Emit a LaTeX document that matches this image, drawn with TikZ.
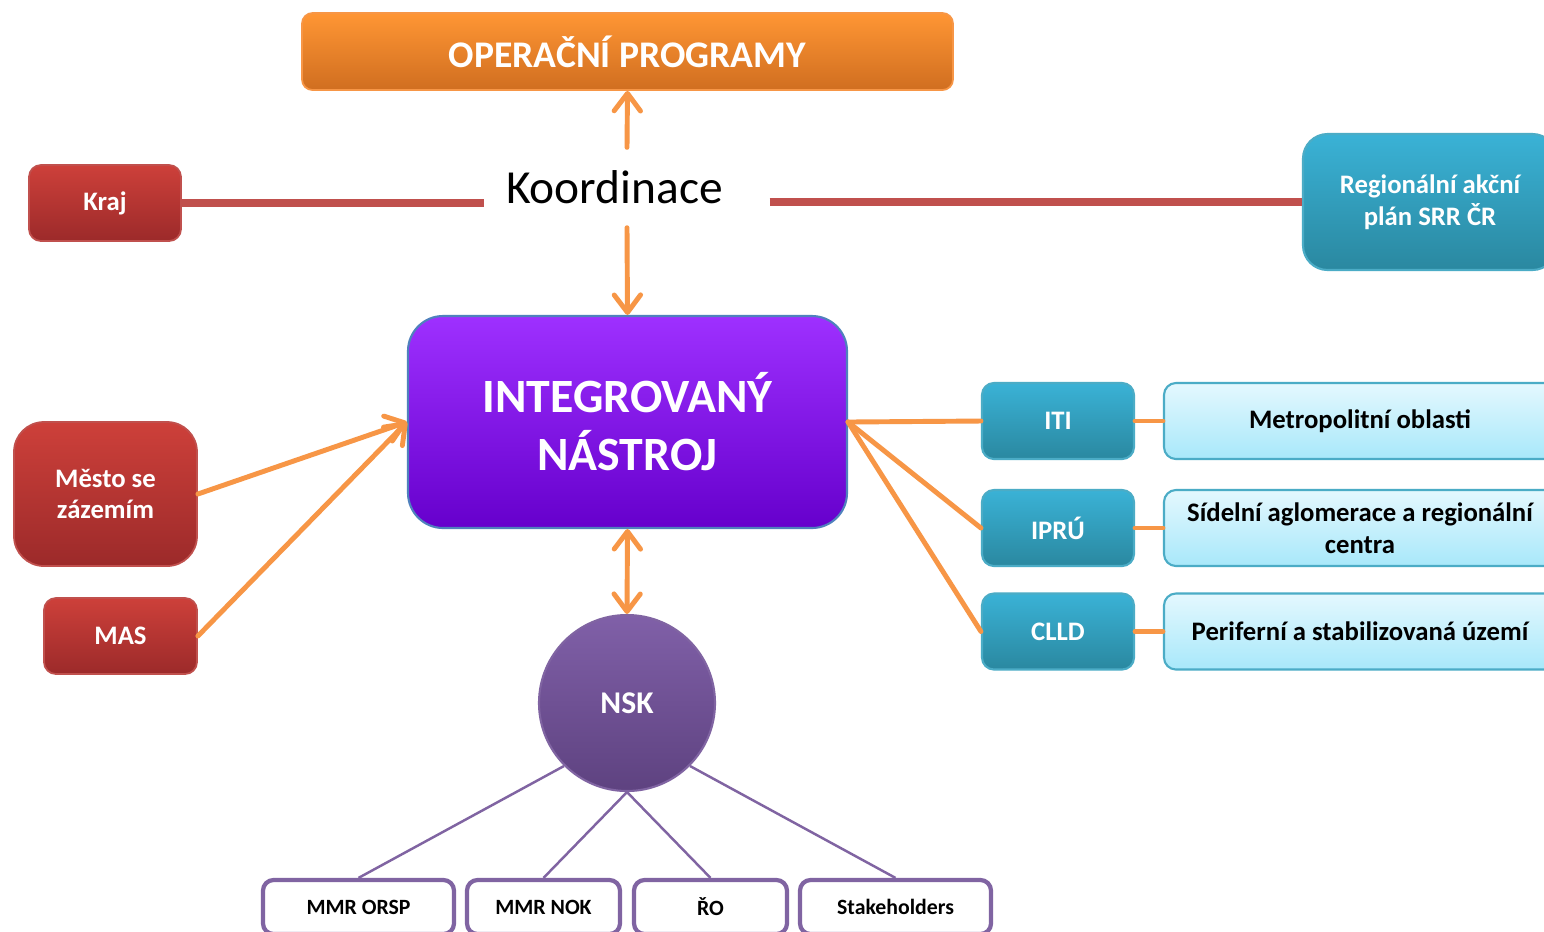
\documentclass[tikz,border=0pt]{standalone}
\usepackage{fontspec}
\setmainfont{Carlito}
\usetikzlibrary{arrows.meta}
\definecolor{arr}{HTML}{F79646}
\definecolor{redline}{HTML}{C0504D}
\definecolor{lila}{HTML}{8064A2}
\definecolor{teal}{HTML}{4BACC6}
\begin{document}
\begin{tikzpicture}[>={Straight Barb[length=5pt,width=7.5pt,round]},
  box/.style={rectangle,inner sep=0pt,align=center,text=white,font=\bfseries\fontsize{7.6}{9}\selectfont},
  redbox/.style={box,rounded corners=3.4pt,draw=redline,line width=0.5pt,top color={rgb,255:red,205;green,64;blue,58},bottom color={rgb,255:red,156;green,42;blue,42}},
  tealbox/.style={box,rounded corners=3.4pt,draw=teal,line width=0.6pt,top color={rgb,255:red,58;green,178;blue,214},bottom color={rgb,255:red,42;green,136;blue,160}},
  lightbox/.style={box,text=black,rounded corners=3.4pt,draw=teal,line width=0.6pt,top color={rgb,255:red,228;green,248;blue,254},bottom color={rgb,255:red,168;green,232;blue,250},minimum width=3.92cm,minimum height=0.76cm},
  nskbox/.style={box,text=black,font=\bfseries\fontsize{6.2}{7.5}\selectfont,fill=white,draw=lila,line width=1.2pt,rounded corners=3pt,minimum height=0.54cm},
  link/.style={arr,line width=1.4pt,line cap=round},
  nsklink/.style={lila,line width=0.7pt}]
\clip (0,0) rectangle (15.44,-9.31);
\fill[white] (0,0) rectangle (15.44,-9.31);
% horni cast
\node[box,font=\bfseries\fontsize{10.7}{12}\selectfont,minimum width=6.51cm,minimum height=0.77cm,draw=arr,line width=0.5pt,
  rounded corners=3pt,top color={rgb,255:red,255;green,150;blue,52},bottom color={rgb,255:red,208;green,110;blue,32}]
  (op) at (6.275,-0.515) {OPERAČNÍ PROGRAMY};
\node[inner ysep=0pt,inner xsep=0.21cm,text width=2.42cm,align=left,minimum height=0.79cm,font=\fontsize{13.5}{15}\selectfont] (koord) at (6.27,-1.875) {Koordinace};
\node[redbox,minimum width=1.52cm,minimum height=0.76cm] (kraj) at (1.05,-2.03) {Kraj};
\node[tealbox,rounded corners=7pt,minimum width=2.54cm,minimum height=1.36cm,font=\bfseries\fontsize{7.6}{9}\selectfont] (rap) at (14.30,-2.02) {Regionální akční\\plán SRR ČR};
\draw[redline,line width=2.3pt] (kraj.east) -- (kraj.east -| koord.west);
\draw[redline,line width=2.3pt] (koord.east |- rap.west) -- (rap.west);
% integrovany nastroj
\node[box,font=\bfseries\fontsize{13.6}{16.5}\selectfont,minimum width=4.39cm,minimum height=2.12cm,rounded corners=10pt,
  draw={rgb,255:red,79;green,129;blue,189},line width=0.6pt,
  top color={rgb,255:red,158;green,48;blue,255},middle color={rgb,255:red,153;green,0;blue,255},bottom color={rgb,255:red,102;green,0;blue,204}]
  (int) at (6.275,-4.22) {INTEGROVANÝ\\NÁSTROJ};
\draw[link,->] (koord.north) -- (op.south);
\draw[link,->] (koord.south) -- (int.north);
% vlevo
\node[redbox,rounded corners=8.5pt,minimum width=1.83cm,minimum height=1.44cm] (mesto) at (1.055,-4.94) {Město se\\zázemím};
\node[redbox,minimum width=1.53cm,minimum height=0.76cm] (mas) at (1.205,-6.36) {MAS};
\draw[link,->] (mesto.east) -- (int.west);
\draw[link,->] (mas.east) -- (int.west);
% vpravo
\node[tealbox,minimum width=1.52cm,minimum height=0.76cm] (iti) at (10.58,-4.21) {ITI};
\node[tealbox,minimum width=1.52cm,minimum height=0.76cm] (ipru) at (10.58,-5.28) {IPRÚ};
\node[tealbox,minimum width=1.52cm,minimum height=0.76cm] (clld) at (10.58,-6.315) {CLLD};
\node[lightbox] (metro) at (13.60,-4.21) {Metropolitní oblasti};
\node[lightbox] (sidel) at (13.60,-5.28) {Sídelní aglomerace a regionální\\centra};
\node[lightbox] (perif) at (13.60,-6.315) {Periferní a stabilizovaná území};
\foreach \t in {iti,ipru,clld} \draw[link] (int.east) -- (\t.west);
\draw[link] (iti.east) -- (metro.west);
\draw[link] (ipru.east) -- (sidel.west);
\draw[link] (clld.east) -- (perif.west);
% NSK
\node[circle,inner sep=0pt,minimum size=1.76cm,text=white,font=\bfseries\fontsize{9}{10}\selectfont,draw=lila,line width=0.6pt,
  top color={rgb,255:red,128;green,96;blue,168},bottom color={rgb,255:red,94;green,66;blue,128}] (nsk) at (6.27,-7.03) {NSK};
\draw[link,<->] (int.south) -- (nsk.north);
\node[nskbox,minimum width=1.91cm] (orsp) at (3.585,-9.07) {MMR ORSP};
\node[nskbox,minimum width=1.53cm] (nok) at (5.435,-9.07) {MMR NOK};
\node[nskbox,minimum width=1.53cm] (ro) at (7.105,-9.07) {ŘO};
\node[nskbox,minimum width=1.91cm] (stake) at (8.955,-9.07) {Stakeholders};
\draw[nsklink] (nsk.south west) -- (orsp.north);
\draw[nsklink] (nsk.south) -- (nok.north);
\draw[nsklink] (nsk.south) -- (ro.north);
\draw[nsklink] (nsk.south east) -- (stake.north);
\end{tikzpicture}
\end{document}
